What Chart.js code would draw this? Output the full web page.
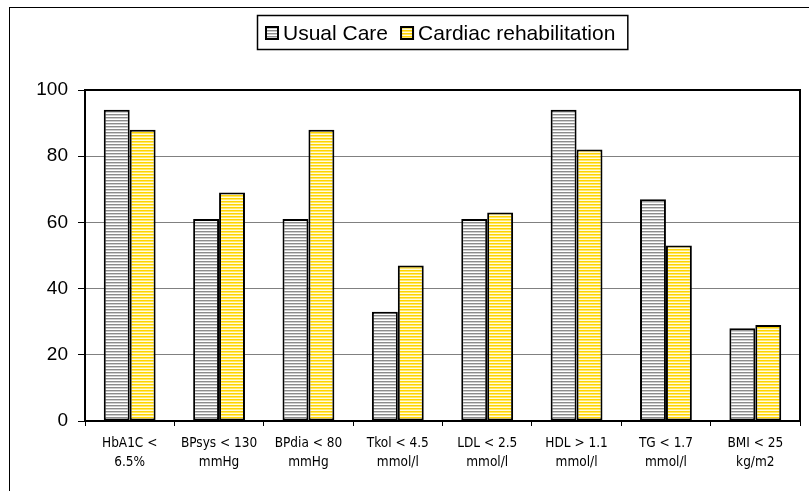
<!DOCTYPE html>
<html>
<head>
<meta charset="utf-8">
<script src="https://cdn.jsdelivr.net/npm/chart.js@4"></script>
<style>
html,body{margin:0;padding:0;background:#fff;}
#wrap{position:relative;width:809px;height:491px;}
</style>
</head>
<body>
<div id="wrap"><canvas id="c" width="809" height="491"></canvas></div>
<script>
const categories = [
  ["HbA1C <", "6.5%"],
  ["BPsys < 130", "mmHg"],
  ["BPdia < 80", "mmHg"],
  ["Tkol < 4.5", "mmol/l"],
  ["LDL < 2.5", "mmol/l"],
  ["HDL > 1.1", "mmol/l"],
  ["TG < 1.7", "mmol/l"],
  ["BMI < 25", "kg/m2"]
];
const seriesNames = ["Usual Care", "Cardiac rehabilitation"];
const usualCare = [94, 61, 61, 33, 61, 94, 67, 28];
const cardiacRehab = [88, 69, 88, 47, 63, 82, 53, 29];
const yTicks = [0, 20, 40, 60, 80, 100];

function stripePattern(rows) {
  const c = document.createElement('canvas');
  c.width = 4; c.height = rows.length;
  const x = c.getContext('2d');
  rows.forEach((col, i) => { x.fillStyle = col; x.fillRect(0, i, 4, 1); });
  return x.createPattern(c, 'repeat');
}
const grayPat = stripePattern(['#8c8c8c', '#cfcfcf', '#ffffff']);
const yellowPat = stripePattern(['#ffd400', '#ffe766', '#fffbe0']);

const framePlugin = {
  id: 'frame',
  beforeDraw(chart) {
    const ctx = chart.ctx;
    ctx.save();
    ctx.fillStyle = '#fff';
    ctx.fillRect(0, 0, chart.width, chart.height);
    ctx.strokeStyle = '#000';
    ctx.lineWidth = 1;
    ctx.strokeRect(9.5, 7.5, 900, 600);
    ctx.restore();
  },
  afterDatasetsDraw(chart) {
    const a = chart.chartArea, ctx = chart.ctx;
    ctx.save();
    ctx.strokeStyle = '#000';
    ctx.lineWidth = 2;
    ctx.strokeRect(a.left, a.top, a.right - a.left, a.bottom - a.top);
    ctx.restore();
  },
  afterDraw(chart) {
    const a = chart.chartArea, ctx = chart.ctx;
    const ds = chart.data.datasets;
    ctx.save();
    ctx.font = '21px "Liberation Sans", Arial, sans-serif';
    ctx.textBaseline = 'alphabetic';
    const sw = 14, gapT = 4, gapI = 12, padL = 8, padR = 12;
    const widths = ds.map(d => ctx.measureText(d.label).width);
    let content = 0;
    widths.forEach((w, i) => { content += sw + gapT + w + (i < widths.length - 1 ? gapI : 0); });
    const boxW = content + padL + padR;
    const cx = (a.left + a.right) / 2;
    const bx = Math.round(cx - boxW / 2);
    const by = 15, bh = 34;
    ctx.strokeStyle = '#000';
    ctx.lineWidth = 1.5;
    ctx.strokeRect(bx + 0.5, by + 0.5, boxW, bh);
    let x = bx + padL;
    ds.forEach((d, i) => {
      ctx.fillStyle = d.backgroundColor;
      ctx.fillRect(x, 26, sw, sw);
      ctx.lineWidth = 2;
      ctx.strokeStyle = '#000';
      ctx.strokeRect(x + 1, 27, sw - 2, sw - 2);
      ctx.fillStyle = '#000';
      ctx.fillText(d.label, x + sw + gapT, 40);
      x += sw + gapT + widths[i] + gapI;
    });
    ctx.restore();
  }
};

new Chart(document.getElementById('c'), {
  type: 'bar',
  data: {
    labels: categories,
    datasets: [
      { label: seriesNames[0], data: usualCare, backgroundColor: grayPat, borderColor: '#000', borderWidth: 2, borderSkipped: false },
      { label: seriesNames[1], data: cardiacRehab, backgroundColor: yellowPat, borderColor: '#000', borderWidth: 2, borderSkipped: false }
    ]
  },
  options: {
    responsive: false,
    animation: false,
    devicePixelRatio: 1,
    layout: { padding: { left: 0, right: 9, top: 90, bottom: 0 } },
    datasets: { bar: { categoryPercentage: 0.58, barPercentage: 1.0 } },
    plugins: { legend: { display: false }, tooltip: { enabled: false }, title: { display: false } },
    scales: {
      x: {
        grid: { display: true, drawOnChartArea: false, drawTicks: true, tickLength: 5, tickColor: '#000', offset: true },
        border: { display: true, color: '#000', width: 2 },
        ticks: { color: '#000', font: { family: '"DejaVu Sans Condensed", "DejaVu Sans", sans-serif', size: 13.5, lineHeight: 1.4 }, padding: 8, maxRotation: 0, autoSkip: false },
        afterFit(s) { s.height = 70; }
      },
      y: {
        min: 0, max: 100,
        afterBuildTicks(s) { s.ticks = yTicks.map(v => ({ value: v })); },
        grid: { color: '#808080', lineWidth: 1, drawTicks: true, tickLength: 7, tickColor: '#000' },
        border: { display: true, color: '#000', width: 2 },
        ticks: { color: '#000', font: { family: '"Liberation Sans", Arial, sans-serif', size: 19 }, padding: 10 },
        afterFit(s) { s.width = 85; }
      }
    }
  },
  plugins: [framePlugin]
});
</script>
</body>
</html>
